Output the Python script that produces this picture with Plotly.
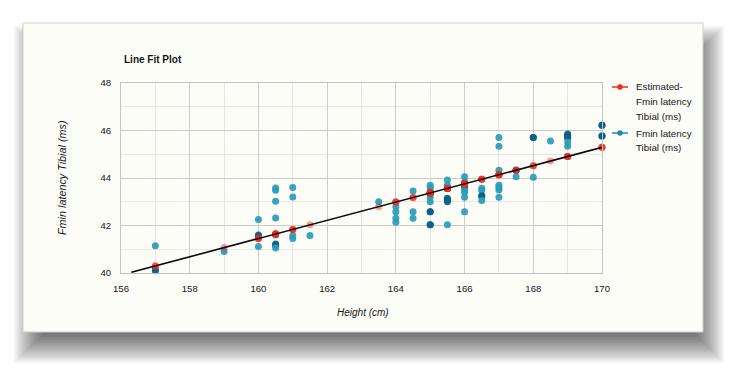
import plotly.graph_objects as go

# ---------------- data ----------------
heights = [157, 157, 157,
           159,
           160, 160, 160, 160,
           160.5, 160.5, 160.5, 160.5, 160.5, 160.5, 160.5, 160.5,
           161, 161, 161, 161,
           161.5,
           163.5,
           164, 164, 164, 164,
           164.5, 164.5, 164.5,
           165, 165, 165, 165, 165, 165, 165, 165, 165, 165, 165,
           165.5, 165.5, 165.5, 165.5, 165.5, 165.5, 165.5, 165.5,
           166, 166, 166, 166, 166, 166, 166, 166,
           166.5, 166.5, 166.5, 166.5, 166.5,
           167, 167, 167, 167, 167, 167, 167,
           167.5, 167.5, 167.5,
           168, 168, 168,
           168.5,
           169, 169, 169, 169, 169, 169,
           170, 170, 170, 170]
fmin = [41.15, 40.15, 40.10,
        40.91,
        42.25, 41.60, 41.55, 41.12,
        43.58, 43.48, 43.02, 42.32, 41.60, 41.22, 41.17, 41.05,
        43.60, 43.20, 41.58, 41.45,
        41.58,
        43.00,
        42.79, 42.58, 42.31, 42.14,
        43.45, 42.58, 42.31,
        43.70, 43.59, 43.50, 43.36, 43.36, 43.19, 43.00, 42.58, 42.58, 42.03, 42.03,
        43.92, 43.70, 43.60, 43.15, 43.08, 43.08, 43.00, 42.03,
        44.05, 43.84, 43.63, 43.63, 43.50, 43.40, 43.19, 42.58,
        43.57, 43.47, 43.24, 43.24, 43.05,
        45.71, 45.34, 44.33, 43.70, 43.60, 43.50, 43.19,
        44.33, 44.33, 44.05,
        45.71, 45.71, 44.03,
        45.56,
        45.85, 45.80, 45.71, 45.71, 45.52, 45.34,
        46.22, 46.22, 45.77, 45.77]

est_heights = [157, 159, 160, 160.5, 161, 161.5, 163.5, 164, 164.5, 165,
               165.5, 166, 166.5, 167, 167.5, 168, 168.5, 169, 170]
est_values = [40.30, 41.07, 41.45, 41.64, 41.83, 42.03, 42.79, 42.99, 43.18, 43.37,
              43.56, 43.76, 43.95, 44.14, 44.33, 44.52, 44.72, 44.91, 45.29]

trend_x = [156.3, 170]
trend_y = [40.03, 45.29]

x_ticks = [156, 158, 160, 162, 164, 166, 168, 170]
y_ticks = [40, 42, 44, 46, 48]

chart_title = "Line Fit Plot"
x_title = "Height (cm)"
y_title = "Fmin latency Tibial (ms)"
legend_est = ["Estimated-", "Fmin latency", "Tibial (ms)"]
legend_obs = ["Fmin latency", "Tibial (ms)"]

# ---------------- geometry helpers ----------------
W, H = 750, 380
PL, PR, PT, PB = 121, 602, 83, 273


def fx(px):
    return (px - PL) / (PR - PL)


def fy(py):
    return (PB - py) / (PB - PT)


FONT = "Liberation Sans, Arial, sans-serif"
TXT = "#161616"
TEAL = "#2a9bb8"
TEAL_DARK = "#0d5f88"
RED = "#f2281c"

# per-observation estimated series (one estimate per observation)
est_lookup = dict(zip(est_heights, est_values))
est_series = [est_lookup[h] for h in heights]

# overlapping observations look darker in the reference
obs_colors = []
for i, (h, v) in enumerate(zip(heights, fmin)):
    near = any(j != i and h2 == h and abs(v2 - v) < 0.08
               for j, (h2, v2) in enumerate(zip(heights, fmin)))
    obs_colors.append(TEAL_DARK if near else TEAL)

fig = go.Figure()
fig.add_trace(go.Scatter(x=heights, y=fmin, mode="markers", name="Fmin latency Tibial (ms)",
                         marker=dict(size=7, color=obs_colors, opacity=0.92),
                         cliponaxis=False, showlegend=False))
fig.add_trace(go.Scatter(x=heights, y=est_series, mode="markers",
                         name="Estimated-Fmin latency Tibial (ms)",
                         marker=dict(size=7, color=RED, opacity=0.45),
                         cliponaxis=False, showlegend=False))
fig.add_trace(go.Scatter(x=trend_x, y=trend_y, mode="lines",
                         line=dict(color="#0a0a0a", width=1.6),
                         cliponaxis=False, showlegend=False, hoverinfo="skip"))

shapes = []
# card shadow
cx0, cy0, cx1, cy1 = 23, 23, 703, 332
dx, dy, blur, N = 5, 15, 32, 22
for i in range(N):
    e = -blur / 2 + i * blur / (N - 1)
    shapes.append(dict(type="rect", xref="paper", yref="paper", layer="below",
                       x0=fx(cx0 + dx + 2 - e), x1=fx(cx1 + dx + e),
                       y0=fy(cy1 + dy + e), y1=fy(cy0 + dy + 4 - e),
                       line=dict(width=0), fillcolor="rgba(0,0,0,0.036)"))
# card
shapes.append(dict(type="rect", xref="paper", yref="paper", layer="below",
                   x0=fx(cx0), x1=fx(cx1), y0=fy(cy1), y1=fy(cy0),
                   line=dict(width=1, color="#cfcfc8"), fillcolor="#fdfdf7"))

# legend symbols
for ly, col in [(87, RED), (133, "#1f88ad")]:
    shapes.append(dict(type="line", xref="paper", yref="paper",
                       x0=fx(612), x1=fx(628), y0=fy(ly), y1=fy(ly),
                       line=dict(color=col, width=1.5)))
    shapes.append(dict(type="circle", xref="paper", yref="paper",
                       x0=fx(617.3), x1=fx(622.7), y0=fy(ly + 2.7), y1=fy(ly - 2.7),
                       line=dict(width=0), fillcolor=col))

annotations = [
    dict(text=f"<b>{chart_title}</b>", x=fx(122), y=fy(59), xref="paper", yref="paper",
         xanchor="left", yanchor="middle", showarrow=False,
         font=dict(family=FONT, size=10, color=TXT)),
    dict(text=f"<i>{x_title}</i>", x=fx(363), y=fy(312), xref="paper", yref="paper",
         xanchor="center", yanchor="middle", showarrow=False,
         font=dict(family=FONT, size=10, color=TXT)),
    dict(text=f"<i>{y_title}</i>", x=fx(62), y=fy(178), xref="paper", yref="paper",
         xanchor="center", yanchor="middle", showarrow=False, textangle=-90,
         font=dict(family=FONT, size=10.8, color=TXT)),
]
for k, line in enumerate(legend_est):
    annotations.append(dict(text=line, x=fx(634), y=fy(87 + 14.5 * k), xref="paper", yref="paper",
                            xanchor="left", yanchor="middle", showarrow=False,
                            font=dict(family=FONT, size=9.8, color=TXT)))
for k, line in enumerate(legend_obs):
    annotations.append(dict(text=line, x=fx(634), y=fy(133 + 14.5 * k), xref="paper", yref="paper",
                            xanchor="left", yanchor="middle", showarrow=False,
                            font=dict(family=FONT, size=9.8, color=TXT)))

axis_common = dict(showgrid=True, gridcolor="#cbcbcb", gridwidth=1,
                   showline=True, linecolor="#c4c4c4", linewidth=1, mirror=True,
                   zeroline=False, ticks="outside", tickcolor="rgba(0,0,0,0)",
                   tickfont=dict(family=FONT, size=9.6, color=TXT), fixedrange=True)

fig.update_layout(
    width=W, height=H,
    margin=dict(l=PL, r=W - PR, t=PT, b=H - PB, pad=0),
    paper_bgcolor="white", plot_bgcolor="rgba(0,0,0,0)",
    xaxis=dict(range=[156, 170], tickvals=x_ticks, ticktext=[str(t) for t in x_ticks],
               ticklen=6, minor=dict(tick0=156, dtick=1, showgrid=True, gridcolor="#e7e7e4"),
               **axis_common),
    yaxis=dict(range=[40, 48], tickvals=y_ticks, ticktext=[str(t) for t in y_ticks],
               ticklen=7, minor=dict(tick0=40, dtick=1, showgrid=True, gridcolor="#e7e7e4"),
               **axis_common),
    shapes=shapes, annotations=annotations, showlegend=False,
)

fig.write_html("out.html")
